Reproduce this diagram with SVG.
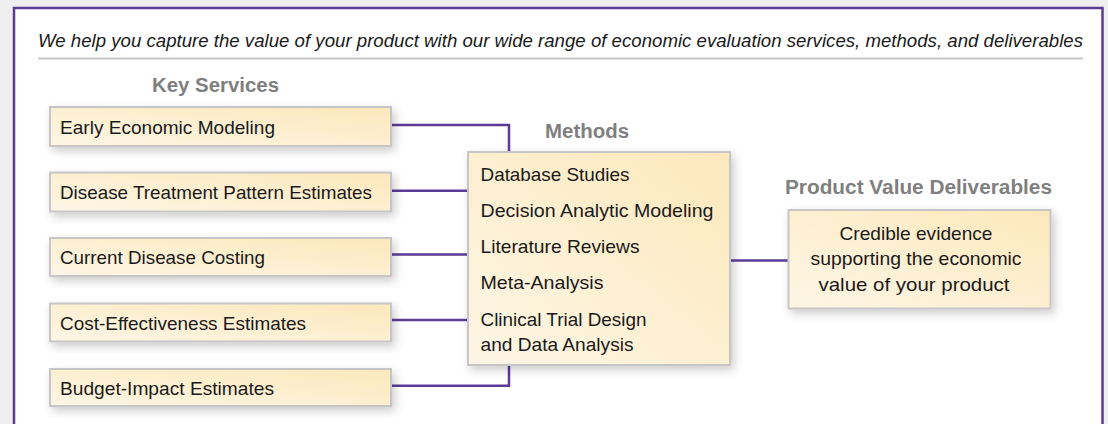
<svg xmlns="http://www.w3.org/2000/svg" width="1108" height="424" viewBox="0 0 1108 424">
  <defs>
    <linearGradient id="boxFill" x1="0" y1="1" x2="1" y2="0">
      <stop offset="0" stop-color="#fdf6e6"/>
      <stop offset="1" stop-color="#fde8bb"/>
    </linearGradient>
    <filter id="shadow" x="-10%" y="-20%" width="130%" height="150%">
      <feDropShadow dx="3" dy="4" stdDeviation="5" flood-color="#000" flood-opacity="0.2"/>
    </filter>
    <style>
      .box { fill: url(#boxFill); stroke: #c6c6c6; stroke-width: 2; filter: url(#shadow); }
      .txt { font-family: "Liberation Sans Narrow", "Liberation Sans", Arial, sans-serif; font-size: 19px; fill: #1a1a1a; }
      .hdr { font-family: "Liberation Sans Narrow", "Liberation Sans", Arial, sans-serif; font-size: 20px; font-weight: bold; fill: #7f7f7f; text-anchor: middle; }
      .title { font-family: "Liberation Sans Narrow", "Liberation Sans", Arial, sans-serif; font-size: 19px; font-style: italic; fill: #1a1a1a; }
      .conn { fill: none; stroke: #5b3b97; stroke-width: 2.5; }
    </style>
  </defs>

  <rect x="0" y="0" width="1108" height="424" fill="#efefef"/>
  <rect x="14" y="8" width="1088.5" height="440" fill="#ffffff" stroke="#5b3b97" stroke-width="2.5"/>

  <text class="title" x="38" y="47" textLength="1045" lengthAdjust="spacingAndGlyphs">We help you capture the value of your product with our wide range of economic evaluation services, methods, and deliverables</text>
  <line x1="38" y1="58.5" x2="1083" y2="58.5" stroke="#c8c8c8" stroke-width="2"/>

  <text class="hdr" x="215.5" y="91.7" textLength="127" lengthAdjust="spacingAndGlyphs">Key Services</text>
  <text class="hdr" x="587" y="137.7" textLength="84" lengthAdjust="spacingAndGlyphs">Methods</text>
  <text class="hdr" x="918.5" y="194.3" textLength="267" lengthAdjust="spacingAndGlyphs">Product Value Deliverables</text>

  <g id="connectors">
    <path class="conn" d="M391 125 H509 V152"/>
    <path class="conn" d="M391 190.7 H468"/>
    <path class="conn" d="M391 254.5 H468"/>
    <path class="conn" d="M391 320 H468"/>
    <path class="conn" d="M391 385.8 H509 V365"/>
    <path class="conn" d="M730 260.5 H788"/>
  </g>

  <g id="service-early">
    <rect class="box" x="50" y="107" width="341" height="39"/>
    <text class="txt" x="60" y="133.5" textLength="215" lengthAdjust="spacingAndGlyphs">Early Economic Modeling</text>
  </g>
  <g id="service-pattern">
    <rect class="box" x="50" y="172.5" width="341" height="39"/>
    <text class="txt" x="60" y="199" textLength="312" lengthAdjust="spacingAndGlyphs">Disease Treatment Pattern Estimates</text>
  </g>
  <g id="service-costing">
    <rect class="box" x="50" y="238" width="341" height="38"/>
    <text class="txt" x="60" y="264" textLength="205" lengthAdjust="spacingAndGlyphs">Current Disease Costing</text>
  </g>
  <g id="service-ce">
    <rect class="box" x="50" y="303.5" width="341" height="38"/>
    <text class="txt" x="60" y="330" textLength="246" lengthAdjust="spacingAndGlyphs">Cost-Effectiveness Estimates</text>
  </g>
  <g id="service-bi">
    <rect class="box" x="50" y="369" width="341" height="37"/>
    <text class="txt" x="60" y="395" textLength="214" lengthAdjust="spacingAndGlyphs">Budget-Impact Estimates</text>
  </g>

  <g id="methods">
    <rect class="box" x="468" y="152" width="262" height="213"/>
    <text class="txt" x="480.5" y="180.5" textLength="149" lengthAdjust="spacingAndGlyphs">Database Studies</text>
    <text class="txt" x="480.5" y="216.5" textLength="233" lengthAdjust="spacingAndGlyphs">Decision Analytic Modeling</text>
    <text class="txt" x="480.5" y="252.5" textLength="159" lengthAdjust="spacingAndGlyphs">Literature Reviews</text>
    <text class="txt" x="480.5" y="289" textLength="123" lengthAdjust="spacingAndGlyphs">Meta-Analysis</text>
    <text class="txt" x="480.5" y="325.5" textLength="166" lengthAdjust="spacingAndGlyphs">Clinical Trial Design</text>
    <text class="txt" x="480.5" y="350.7" textLength="153" lengthAdjust="spacingAndGlyphs">and Data Analysis</text>
  </g>

  <g id="deliverables">
    <rect class="box" x="788.5" y="210" width="262" height="98.5"/>
    <text class="txt" x="916" y="240" text-anchor="middle" textLength="153" lengthAdjust="spacingAndGlyphs">Credible evidence</text>
    <text class="txt" x="916" y="265" text-anchor="middle" textLength="211" lengthAdjust="spacingAndGlyphs">supporting the economic</text>
    <text class="txt" x="914" y="290.5" text-anchor="middle" textLength="191" lengthAdjust="spacingAndGlyphs">value of your product</text>
  </g>
</svg>
